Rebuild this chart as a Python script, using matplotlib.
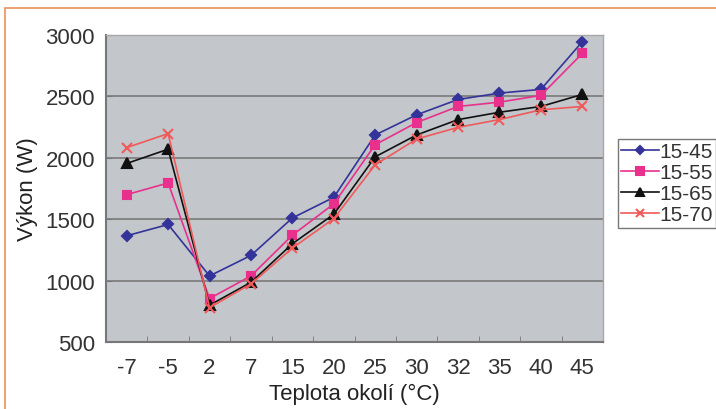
import matplotlib
matplotlib.use("Agg")
import matplotlib.pyplot as plt
from matplotlib.patches import Rectangle

# Ambient temperature categories and heat output per flow/return setting
temperatures = ["-7", "-5", "2", "7", "15", "20", "25", "30", "32", "35", "40", "45"]
series_names = ["15-45", "15-55", "15-65", "15-70"]
out_15_45 = [1365, 1457, 1038, 1205, 1510, 1678, 2186, 2350, 2475, 2527, 2557, 2945]
out_15_55 = [1700, 1795, 854, 1038, 1370, 1625, 2107, 2287, 2418, 2453, 2508, 2850]
out_15_65 = [1954, 2070, 800, 986, 1300, 1540, 2008, 2186, 2311, 2371, 2418, 2516]
out_15_70 = [2083, 2197, 780, 973, 1265, 1505, 1943, 2153, 2248, 2311, 2391, 2418]
y_ticks = [500, 1000, 1500, 2000, 2500, 3000]

plt.rcParams["font.family"] = ["Liberation Sans", "DejaVu Sans"]

fig = plt.figure(figsize=(7.16, 4.10), dpi=100)
fig.patch.set_facecolor("white")

# orange frame around the figure
fig.patches.append(Rectangle((5 / 716, -0.1), 1.2, 1 - 9 / 410 + 0.1,
                             transform=fig.transFigure, fill=False,
                             edgecolor="#EE9A66", linewidth=1.3))

ax = fig.add_axes([106 / 716, 1 - 343 / 410, (603 - 106) / 716, (343 - 36) / 410])
ax.set_facecolor("#C3C6CA")

x = list(range(len(temperatures)))
styles = [
    (out_15_45, "#33339A", "D", 5, "#33339A"),
    (out_15_55, "#E8308C", "s", 6, "#E8308C"),
    (out_15_65, "#111111", "^", 6.5, "#111111"),
    (out_15_70, "#F05A5A", "x", 7, "#F05A5A"),
]
for (vals, col, mk, ms, mc), name in zip(styles, series_names):
    ax.plot(x, vals, color=col, linewidth=1.2, marker=mk, markersize=ms,
            markerfacecolor=mc, markeredgecolor=mc, markeredgewidth=1.5,
            label=name)

ax.set_xlim(-0.5, len(temperatures) - 0.5)
ax.set_ylim(500, 3000)
ax.set_yticks(y_ticks)
ax.set_yticklabels([str(v) for v in y_ticks])
ax.set_xticks(x)
ax.set_xticklabels(temperatures)
ax.set_xticks([i + 0.5 for i in range(len(temperatures) - 1)], minor=True)
ax.tick_params(axis="x", which="major", length=0, labelsize=16, pad=11)
ax.tick_params(axis="x", which="minor", length=4, direction="in", color="#777777")
ax.tick_params(axis="y", which="major", length=4, direction="in", labelsize=16,
               color="#777777", pad=8)
ax.tick_params(axis="both", labelcolor="#333333")

ax.grid(axis="y", color="#7A7A7A", linewidth=1.2)
ax.set_axisbelow(True)
for side in ["top", "right"]:
    ax.spines[side].set_color("#A8A8A8")
    ax.spines[side].set_linewidth(1.0)
for side in ["left", "bottom"]:
    ax.spines[side].set_color("#777777")
    ax.spines[side].set_linewidth(1.5)

ax.set_xlabel("Teplota okolí (°C)", fontsize=16, color="#222222", labelpad=3)
ax.set_ylabel("Výkon (W)", fontsize=16, color="#222222", labelpad=5)

leg = fig.legend(loc="upper left", bbox_to_anchor=(618 / 716, 1 - 140 / 410),
                 bbox_transform=fig.transFigure, fontsize=15, frameon=True,
                 fancybox=False, handlelength=1.8, handletextpad=0.05,
                 borderpad=0.15, labelspacing=0.1, borderaxespad=0,
                 markerscale=0.85)
leg.get_frame().set_edgecolor("#555555")
leg.get_frame().set_linewidth(1.0)
for t in leg.get_texts():
    t.set_color("#333333")

fig.savefig("out.png", dpi=100, facecolor="white")
